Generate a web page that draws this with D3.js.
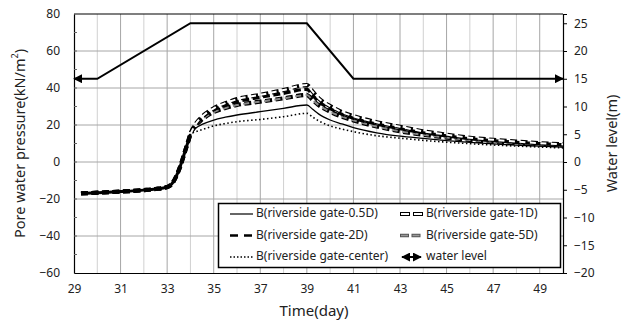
<!DOCTYPE html>
<html>
<head>
<meta charset="utf-8">
<script src="https://cdn.jsdelivr.net/npm/d3@7"></script>
<style>
  html, body { margin: 0; padding: 0; background: #fff; }
  svg { display: block; font-family: "Noto Sans", "Open Sans", sans-serif; }
</style>
</head>
<body>
<svg id="chart" width="631" height="322"></svg>
<script>
// Time axis (days) shared by the pore-pressure series
const days = [29.3, 30, 31, 32, 32.5, 33, 33.15, 33.3, 33.45, 33.6, 33.75, 33.9, 34,
  34.25, 34.5, 35, 35.5, 36, 37, 38, 39, 39.25, 39.5, 40, 40.5, 41, 42, 43, 44, 45, 46, 47, 48, 49, 50];

// Common rising limb up to day 34
const rise = [-17, -16.6, -16, -15.2, -14.6, -13.5, -12.5, -10, -6, -1, 5, 11, 15];

// Pore water pressure (kN/m²) per observation point
const p05D = rise.concat([18.5, 20.3, 22.7, 24.2, 25.4, 27.2, 29, 30.8, 28.5, 26, 22.7, 20.6, 18.6, 15.8, 14, 12.8, 11.6, 10.6, 9.8, 9.1, 8.6, 8.1]);
const p1D = rise.concat([21, 24.5, 29, 31.8, 34, 36.3, 38.9, 41.6, 38, 34.5, 30.2, 27, 24.8, 21.5, 19, 16.6, 14.8, 13.1, 12, 11, 10.2, 9.6]);
const p2D = rise.concat([20.5, 24, 28.2, 30.6, 32.6, 35, 37.1, 39.3, 36, 32.8, 28.8, 25.8, 23.6, 20.5, 18, 15.8, 14.1, 12.6, 11.5, 10.6, 9.9, 9.3]);
const p5D = rise.concat([20, 23, 27, 29.2, 30.8, 32.6, 34.4, 36.2, 33.5, 30.8, 27.2, 24.5, 22.5, 19.2, 16.6, 14.7, 13.2, 11.9, 10.9, 10.1, 9.5, 9.0]);
const pCenter = rise.concat([16.5, 17.5, 19.5, 20.8, 21.8, 23, 24.5, 26.3, 24.3, 22.3, 19.5, 17.8, 16.4, 14.2, 12.9, 11.7, 10.7, 9.9, 9.2, 8.6, 8.1, 7.6]);

// River water level (m)
const wlDays = [29, 30, 34, 39, 41, 50];
const wlLevel = [15, 15, 25, 25, 15, 15];

// Tick labels
const xTicks = [29, 31, 33, 35, 37, 39, 41, 43, 45, 47, 49];
const yLeftTicks = [-60, -40, -20, 0, 20, 40, 60, 80];
const yRightTicks = [-20, -15, -10, -5, 0, 5, 10, 15, 20, 25];

const seriesNames = ["B(riverside gate-0.5D)", "B(riverside gate-1D)", "B(riverside gate-2D)",
  "B(riverside gate-5D)", "B(riverside gate-center)", "water level"];

const svg = d3.select("#chart");
const m = { left: 74, top: 14, right: 563, bottom: 273 };

const x = d3.scaleLinear().domain([29, 50]).range([m.left, m.right]);
const yL = d3.scaleLinear().domain([-60, 80]).range([m.bottom, m.top]);
const yR = d3.scaleLinear().domain([-20, 80 / 3]).range([m.bottom, m.top]);

// Grid
const grid = svg.append("g");
grid.selectAll("line.v").data(d3.range(30, 50)).join("line")
  .attr("x1", d => x(d)).attr("x2", d => x(d))
  .attr("y1", m.top).attr("y2", m.bottom)
  .attr("stroke", d => (d % 2 === 1 ? "#a6a6a6" : "#d0d0d0")).attr("stroke-width", 1);
grid.selectAll("line.h").data([-40, -20, 0, 20, 40, 60]).join("line")
  .attr("x1", m.left).attr("x2", m.right)
  .attr("y1", d => yL(d)).attr("y2", d => yL(d))
  .attr("stroke", "#a6a6a6").attr("stroke-width", 1);

// Axes
const fontSize = 12;
const axL = svg.append("g").attr("transform", `translate(${m.left},0)`)
  .call(d3.axisLeft(yL).tickValues(yLeftTicks).tickSize(0).tickPadding(14));
const axR = svg.append("g").attr("transform", `translate(${m.right},0)`)
  .call(d3.axisRight(yR).tickValues(yRightTicks).tickSize(4).tickPadding(7));
const axB = svg.append("g").attr("transform", `translate(0,${m.bottom})`)
  .call(d3.axisBottom(x).tickValues(xTicks).tickSize(0).tickPadding(11));
[axL, axR, axB].forEach(a => {
  a.select(".domain").attr("stroke", "#000").attr("stroke-width", 1.2);
  a.selectAll("text").attr("font-size", fontSize).attr("fill", "#222").attr("font-family", "Noto Sans");
  a.selectAll(".tick line").attr("stroke", "#000");
});
// Minor ticks on the left axis
svg.append("g").selectAll("line").data(d3.range(-50, 80, 10)).join("line")
  .attr("x1", m.left).attr("x2", m.left + 3)
  .attr("y1", d => yL(d)).attr("y2", d => yL(d))
  .attr("stroke", "#666");
// Top frame
svg.append("line").attr("x1", m.left).attr("x2", m.right).attr("y1", m.top).attr("y2", m.top)
  .attr("stroke", "#000").attr("stroke-width", 1.2);

// Axis titles
svg.append("text").attr("transform", `translate(21,${(m.top + m.bottom) / 2}) rotate(-90)`)
  .attr("text-anchor", "middle").attr("dominant-baseline", "middle")
  .attr("font-size", 14.5).attr("fill", "#222")
  .html('Pore water pressure(kN/m<tspan dy="-5" font-size="9">2</tspan><tspan dy="5">)</tspan>');
svg.append("text").attr("transform", `translate(613,${(m.top + m.bottom) / 2}) rotate(-90)`)
  .attr("text-anchor", "middle").attr("dominant-baseline", "middle")
  .attr("font-size", 14.5).attr("fill", "#222").text("Water level(m)");
svg.append("text").attr("x", 314).attr("y", 312)
  .attr("text-anchor", "middle").attr("dominant-baseline", "middle")
  .attr("font-size", 15).attr("fill", "#222").text("Time(day)");

// Arrow markers
const defs = svg.append("defs");
defs.append("marker").attr("id", "arrowEnd").attr("viewBox", "0 0 10 10")
  .attr("refX", 9).attr("refY", 5).attr("markerWidth", 4.5).attr("markerHeight", 4.5)
  .attr("orient", "auto-start-reverse").attr("markerUnits", "strokeWidth")
  .append("path").attr("d", "M0,0 L10,5 L0,10 z").attr("fill", "#000");

// Lines; `from` lets an inner stroke start where the curves separate
const line = (ys, scale, from = 0) => d3.line()
  .defined((d, i) => i >= from)
  .x((d, i) => x(days[i])).y(d => scale(d)).curve(d3.curveMonotoneX)(ys);

const split = days.indexOf(34);
const plot = svg.append("g");
const series = [
  { data: p05D, styles: [{ stroke: "#000", w: 1.3 }] },
  { data: pCenter, styles: [{ stroke: "#000", w: 1.6, dash: "1.5,2.5" }] },
  { data: p5D, styles: [{ stroke: "#000", w: 4.2, dash: "7,3.5" }, { stroke: "#888", w: 2, dash: "6,4.5", off: -0.5, from: split }] },
  { data: p2D, styles: [{ stroke: "#000", w: 3.2, dash: "7,3.5" }] },
  { data: p1D, styles: [{ stroke: "#000", w: 4.2, dash: "7,3.5" }, { stroke: "#fff", w: 2, dash: "6,4.5", off: -0.5, from: split }] }
];
series.forEach(s => {
  s.styles.forEach(st => {
    plot.append("path").attr("d", line(s.data, yL, st.from || 0)).attr("fill", "none")
      .attr("stroke", st.stroke).attr("stroke-width", st.w)
      .attr("stroke-dasharray", st.dash || null)
      .attr("stroke-dashoffset", st.off || 0);
  });
});
// Shared rising limb drawn as one heavy line
plot.append("path").attr("d", line(p05D.slice(0, split + 1), yL)).attr("fill", "none")
  .attr("stroke", "#000").attr("stroke-width", 3);

// Water level line with arrowheads at both ends
plot.append("path")
  .attr("d", d3.line().x((d, i) => x(wlDays[i])).y(d => yR(d))(wlLevel))
  .attr("fill", "none").attr("stroke", "#000").attr("stroke-width", 2)
  .attr("marker-start", "url(#arrowEnd)").attr("marker-end", "url(#arrowEnd)");

// Legend
const lg = svg.append("g");
lg.append("rect").attr("x", 218.5).attr("y", 203.5).attr("width", 342).attr("height", 64)
  .attr("fill", "#fff").attr("stroke", "#000").attr("stroke-width", 1.5);
const rows = [214, 235.5, 257];
const cols = [230, 400];
const legendItems = [
  { col: 0, row: 0, name: seriesNames[0] },
  { col: 1, row: 0, name: seriesNames[1] },
  { col: 0, row: 1, name: seriesNames[2] },
  { col: 1, row: 1, name: seriesNames[3] },
  { col: 0, row: 2, name: seriesNames[4] },
  { col: 1, row: 2, name: seriesNames[5] }
];
legendItems.forEach((it, i) => {
  const x0 = cols[it.col], y0 = rows[it.row];
  const g = lg.append("g");
  const seg = (x1, x2, stroke, w, dash) => g.append("line").attr("x1", x1).attr("x2", x2)
    .attr("y1", y0).attr("y2", y0).attr("stroke", stroke).attr("stroke-width", w)
    .attr("stroke-dasharray", dash || null);
  if (i === 0) seg(x0, x0 + 23, "#333", 1.5);
  if (i === 1) { seg(x0, x0 + 23, "#000", 4.2, "10,3"); seg(x0 + 1, x0 + 22, "#fff", 1.8, "8,5"); }
  if (i === 2) seg(x0, x0 + 23, "#000", 2.4, "8,6");
  if (i === 3) { seg(x0, x0 + 23, "#555", 3.5, "9,2.5"); seg(x0 + 1, x0 + 22, "#999", 1.6, "7,4.5"); }
  if (i === 4) seg(x0, x0 + 23, "#000", 1.5, "1.5,2");
  if (i === 5) g.append("line").attr("x1", x0 + 2).attr("x2", x0 + 21).attr("y1", y0).attr("y2", y0)
    .attr("stroke", "#000").attr("stroke-width", 2)
    .attr("marker-start", "url(#arrowEnd)").attr("marker-end", "url(#arrowEnd)");
  g.append("text").attr("x", x0 + 26).attr("y", y0).attr("dominant-baseline", "middle")
    .attr("font-size", 12).attr("fill", "#222").text(it.name);
});
</script>
</body>
</html>
